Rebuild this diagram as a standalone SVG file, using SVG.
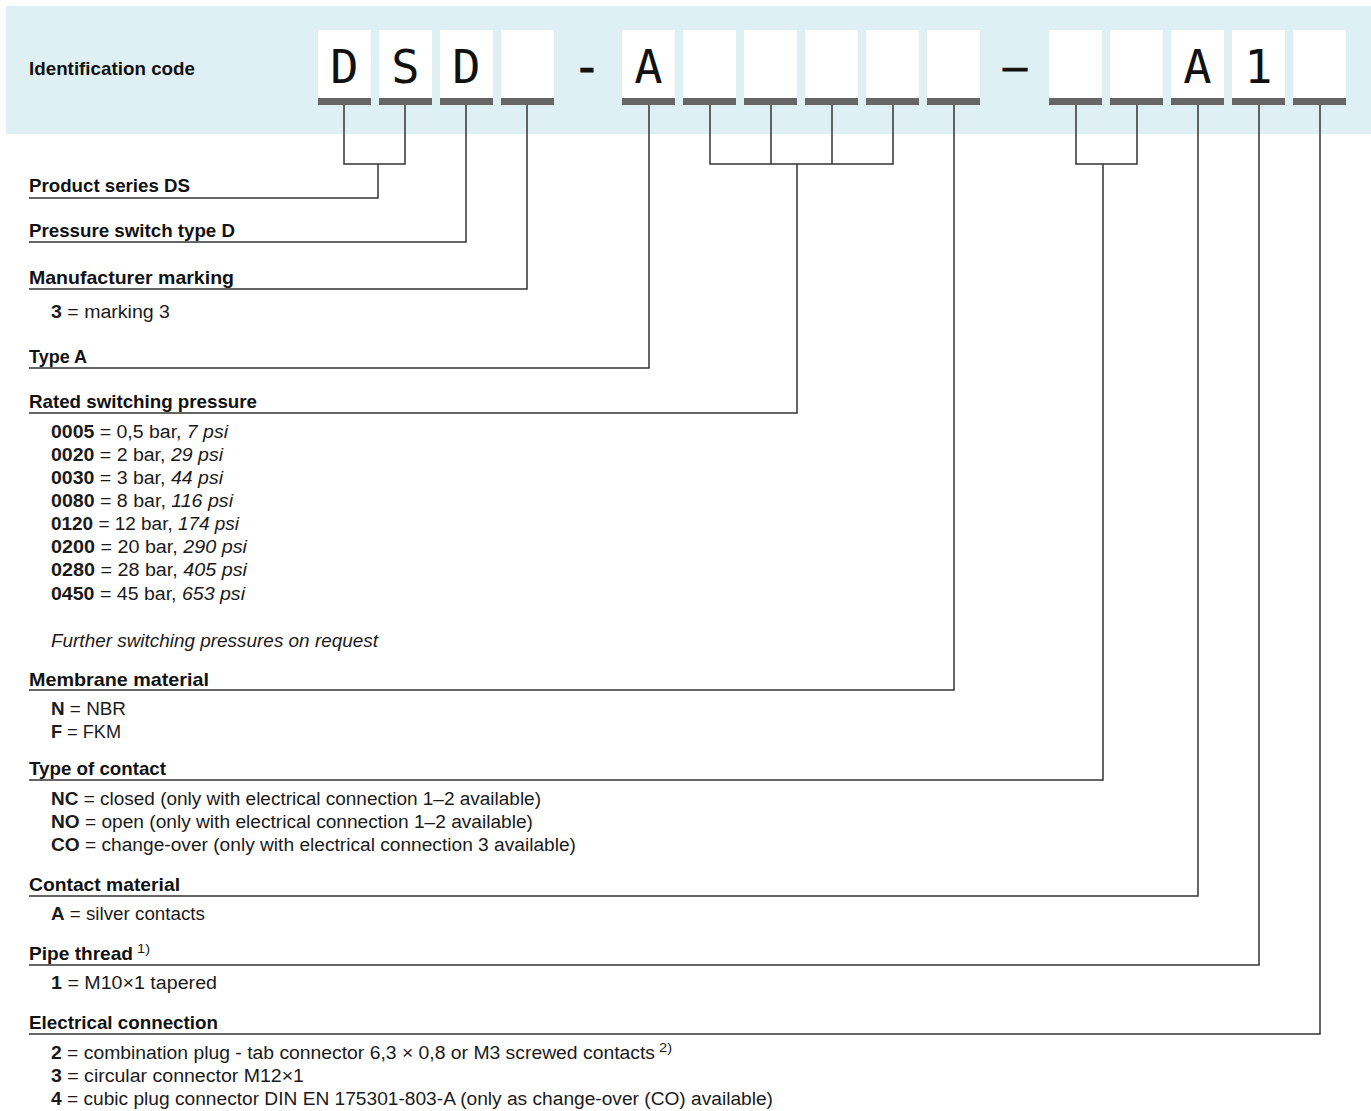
<svg xmlns="http://www.w3.org/2000/svg" width="1371" height="1111" viewBox="0 0 1371 1111">
<style>
.band{fill:#dff0f4}
.box{fill:#ffffff}
.bar{fill:#666666}
.code{font-family:"DejaVu Sans Mono","Liberation Mono",monospace;font-size:47px;fill:#111111;text-anchor:middle}
.h{font-family:"Liberation Sans",Arial,sans-serif;font-size:19px;font-weight:bold;fill:#111111}
.t{font-family:"Liberation Sans",Arial,sans-serif;font-size:18px;fill:#1a1a1a}
.b{font-weight:bold}
.i{font-style:italic}
.sup{font-family:"Liberation Sans",Arial,sans-serif;font-size:12px;fill:#1a1a1a}
.c{fill:none;stroke:#333333;stroke-width:1.5}
</style>
<rect class="band" x="6" y="6" width="1365" height="128"/>
<g id="title"><text class="h" x="29" y="75" textLength="166" lengthAdjust="spacingAndGlyphs">Identification code</text></g>
<g id="code">
<g id="pos1"><rect class="box" x="318" y="30" width="53" height="68"/><rect class="bar" x="318" y="98" width="53" height="7"/><text class="code" x="344.5" y="83">D</text></g>
<g id="pos2"><rect class="box" x="379" y="30" width="53" height="68"/><rect class="bar" x="379" y="98" width="53" height="7"/><text class="code" x="405.5" y="83">S</text></g>
<g id="pos3"><rect class="box" x="440" y="30" width="53" height="68"/><rect class="bar" x="440" y="98" width="53" height="7"/><text class="code" x="466.5" y="83">D</text></g>
<g id="pos4"><rect class="box" x="501" y="30" width="53" height="68"/><rect class="bar" x="501" y="98" width="53" height="7"/></g>
<g id="dash1"><text class="code" x="587" y="83" stroke="#111111" stroke-width="1.2">-</text></g>
<g id="pos5"><rect class="box" x="622" y="30" width="53" height="68"/><rect class="bar" x="622" y="98" width="53" height="7"/><text class="code" x="648.5" y="83">A</text></g>
<g id="pos6"><rect class="box" x="683" y="30" width="53" height="68"/><rect class="bar" x="683" y="98" width="53" height="7"/></g>
<g id="pos7"><rect class="box" x="744" y="30" width="53" height="68"/><rect class="bar" x="744" y="98" width="53" height="7"/></g>
<g id="pos8"><rect class="box" x="805" y="30" width="53" height="68"/><rect class="bar" x="805" y="98" width="53" height="7"/></g>
<g id="pos9"><rect class="box" x="866" y="30" width="53" height="68"/><rect class="bar" x="866" y="98" width="53" height="7"/></g>
<g id="pos10"><rect class="box" x="927" y="30" width="53" height="68"/><rect class="bar" x="927" y="98" width="53" height="7"/></g>
<g id="dash2"><text class="code" x="1015" y="81" style="font-size:40px" stroke="#111111" stroke-width="1">–</text></g>
<g id="pos11"><rect class="box" x="1049" y="30" width="53" height="68"/><rect class="bar" x="1049" y="98" width="53" height="7"/></g>
<g id="pos12"><rect class="box" x="1110" y="30" width="53" height="68"/><rect class="bar" x="1110" y="98" width="53" height="7"/></g>
<g id="pos13"><rect class="box" x="1171" y="30" width="53" height="68"/><rect class="bar" x="1171" y="98" width="53" height="7"/><text class="code" x="1197.5" y="83">A</text></g>
<g id="pos14"><rect class="box" x="1232" y="30" width="53" height="68"/><rect class="bar" x="1232" y="98" width="53" height="7"/><text class="code" x="1258.5" y="83">1</text></g>
<g id="pos15"><rect class="box" x="1293" y="30" width="53" height="68"/><rect class="bar" x="1293" y="98" width="53" height="7"/></g>
</g>
<g id="connectors">
<path class="c" d="M344 105V164H405V105M378 164V198H29"/>
<path class="c" d="M466 105V242H29"/>
<path class="c" d="M527 105V289H29"/>
<path class="c" d="M649 105V368H29"/>
<path class="c" d="M710 105V164H893V105M771 105V164M832 105V164M797 164V413H29"/>
<path class="c" d="M954 105V690H29"/>
<path class="c" d="M1076 105V164H1137V105M1103 164V780H29"/>
<path class="c" d="M1198 105V896H29"/>
<path class="c" d="M1259 105V965H29"/>
<path class="c" d="M1320 105V1034H29"/>
</g>
<g id="series"><text class="h" x="29" y="192" textLength="161" lengthAdjust="spacingAndGlyphs">Product series DS</text></g>
<g id="switchtype"><text class="h" x="29" y="237" textLength="206" lengthAdjust="spacingAndGlyphs">Pressure switch type D</text></g>
<g id="marking">
<text class="h" x="29" y="284" textLength="205" lengthAdjust="spacingAndGlyphs">Manufacturer marking</text>
<text class="t" x="51" y="318" textLength="119" lengthAdjust="spacingAndGlyphs"><tspan class="b">3</tspan> = marking 3</text>
</g>
<g id="typeA"><text class="h" x="29" y="363" textLength="58" lengthAdjust="spacingAndGlyphs">Type A</text></g>
<g id="pressure">
<text class="h" x="29" y="408" textLength="228" lengthAdjust="spacingAndGlyphs">Rated switching pressure</text>
<text class="t" x="51" y="438" textLength="177" lengthAdjust="spacingAndGlyphs"><tspan class="b">0005</tspan> = 0,5 bar, <tspan class="i">7 psi</tspan></text>
<text class="t" x="51" y="461" textLength="172" lengthAdjust="spacingAndGlyphs"><tspan class="b">0020</tspan> = 2 bar, <tspan class="i">29 psi</tspan></text>
<text class="t" x="51" y="484" textLength="172" lengthAdjust="spacingAndGlyphs"><tspan class="b">0030</tspan> = 3 bar, <tspan class="i">44 psi</tspan></text>
<text class="t" x="51" y="507" textLength="182" lengthAdjust="spacingAndGlyphs"><tspan class="b">0080</tspan> = 8 bar, <tspan class="i">116 psi</tspan></text>
<text class="t" x="51" y="530" textLength="188" lengthAdjust="spacingAndGlyphs"><tspan class="b">0120</tspan> = 12 bar, <tspan class="i">174 psi</tspan></text>
<text class="t" x="51" y="553" textLength="196" lengthAdjust="spacingAndGlyphs"><tspan class="b">0200</tspan> = 20 bar, <tspan class="i">290 psi</tspan></text>
<text class="t" x="51" y="576" textLength="196" lengthAdjust="spacingAndGlyphs"><tspan class="b">0280</tspan> = 28 bar, <tspan class="i">405 psi</tspan></text>
<text class="t" x="51" y="600" textLength="194" lengthAdjust="spacingAndGlyphs"><tspan class="b">0450</tspan> = 45 bar, <tspan class="i">653 psi</tspan></text>
<text class="t i" x="51" y="647" textLength="327" lengthAdjust="spacingAndGlyphs">Further switching pressures on request</text>
</g>
<g id="membrane">
<text class="h" x="29" y="686" textLength="180" lengthAdjust="spacingAndGlyphs">Membrane material</text>
<text class="t" x="51" y="715" textLength="75" lengthAdjust="spacingAndGlyphs"><tspan class="b">N</tspan> = NBR</text>
<text class="t" x="51" y="738" textLength="70" lengthAdjust="spacingAndGlyphs"><tspan class="b">F</tspan> = FKM</text>
</g>
<g id="contacttype">
<text class="h" x="29" y="775" textLength="137" lengthAdjust="spacingAndGlyphs">Type of contact</text>
<text class="t" x="51" y="805" textLength="490" lengthAdjust="spacingAndGlyphs"><tspan class="b">NC</tspan> = closed (only with electrical connection 1–2 available)</text>
<text class="t" x="51" y="828" textLength="482" lengthAdjust="spacingAndGlyphs"><tspan class="b">NO</tspan> = open (only with electrical connection 1–2 available)</text>
<text class="t" x="51" y="851" textLength="525" lengthAdjust="spacingAndGlyphs"><tspan class="b">CO</tspan> = change-over (only with electrical connection 3 available)</text>
</g>
<g id="contactmaterial">
<text class="h" x="29" y="891" textLength="151" lengthAdjust="spacingAndGlyphs">Contact material</text>
<text class="t" x="51" y="920" textLength="154" lengthAdjust="spacingAndGlyphs"><tspan class="b">A</tspan> = silver contacts</text>
</g>
<g id="pipethread">
<text class="h" x="29" y="960" textLength="104" lengthAdjust="spacingAndGlyphs">Pipe thread</text>
<text class="sup" x="137" y="953" textLength="13" lengthAdjust="spacingAndGlyphs">1)</text>
<text class="t" x="51" y="989" textLength="166" lengthAdjust="spacingAndGlyphs"><tspan class="b">1</tspan> = M10×1 tapered</text>
</g>
<g id="electrical">
<text class="h" x="29" y="1029" textLength="189" lengthAdjust="spacingAndGlyphs">Electrical connection</text>
<text class="t" x="51" y="1059" textLength="604" lengthAdjust="spacingAndGlyphs"><tspan class="b">2</tspan> = combination plug - tab connector 6,3 × 0,8 or M3 screwed contacts</text>
<text class="sup" x="659" y="1052" textLength="13" lengthAdjust="spacingAndGlyphs">2)</text>
<text class="t" x="51" y="1082" textLength="253" lengthAdjust="spacingAndGlyphs"><tspan class="b">3</tspan> = circular connector M12×1</text>
<text class="t" x="51" y="1105" textLength="722" lengthAdjust="spacingAndGlyphs"><tspan class="b">4</tspan> = cubic plug connector DIN EN 175301-803-A (only as change-over (CO) available)</text>
</g>
</svg>
